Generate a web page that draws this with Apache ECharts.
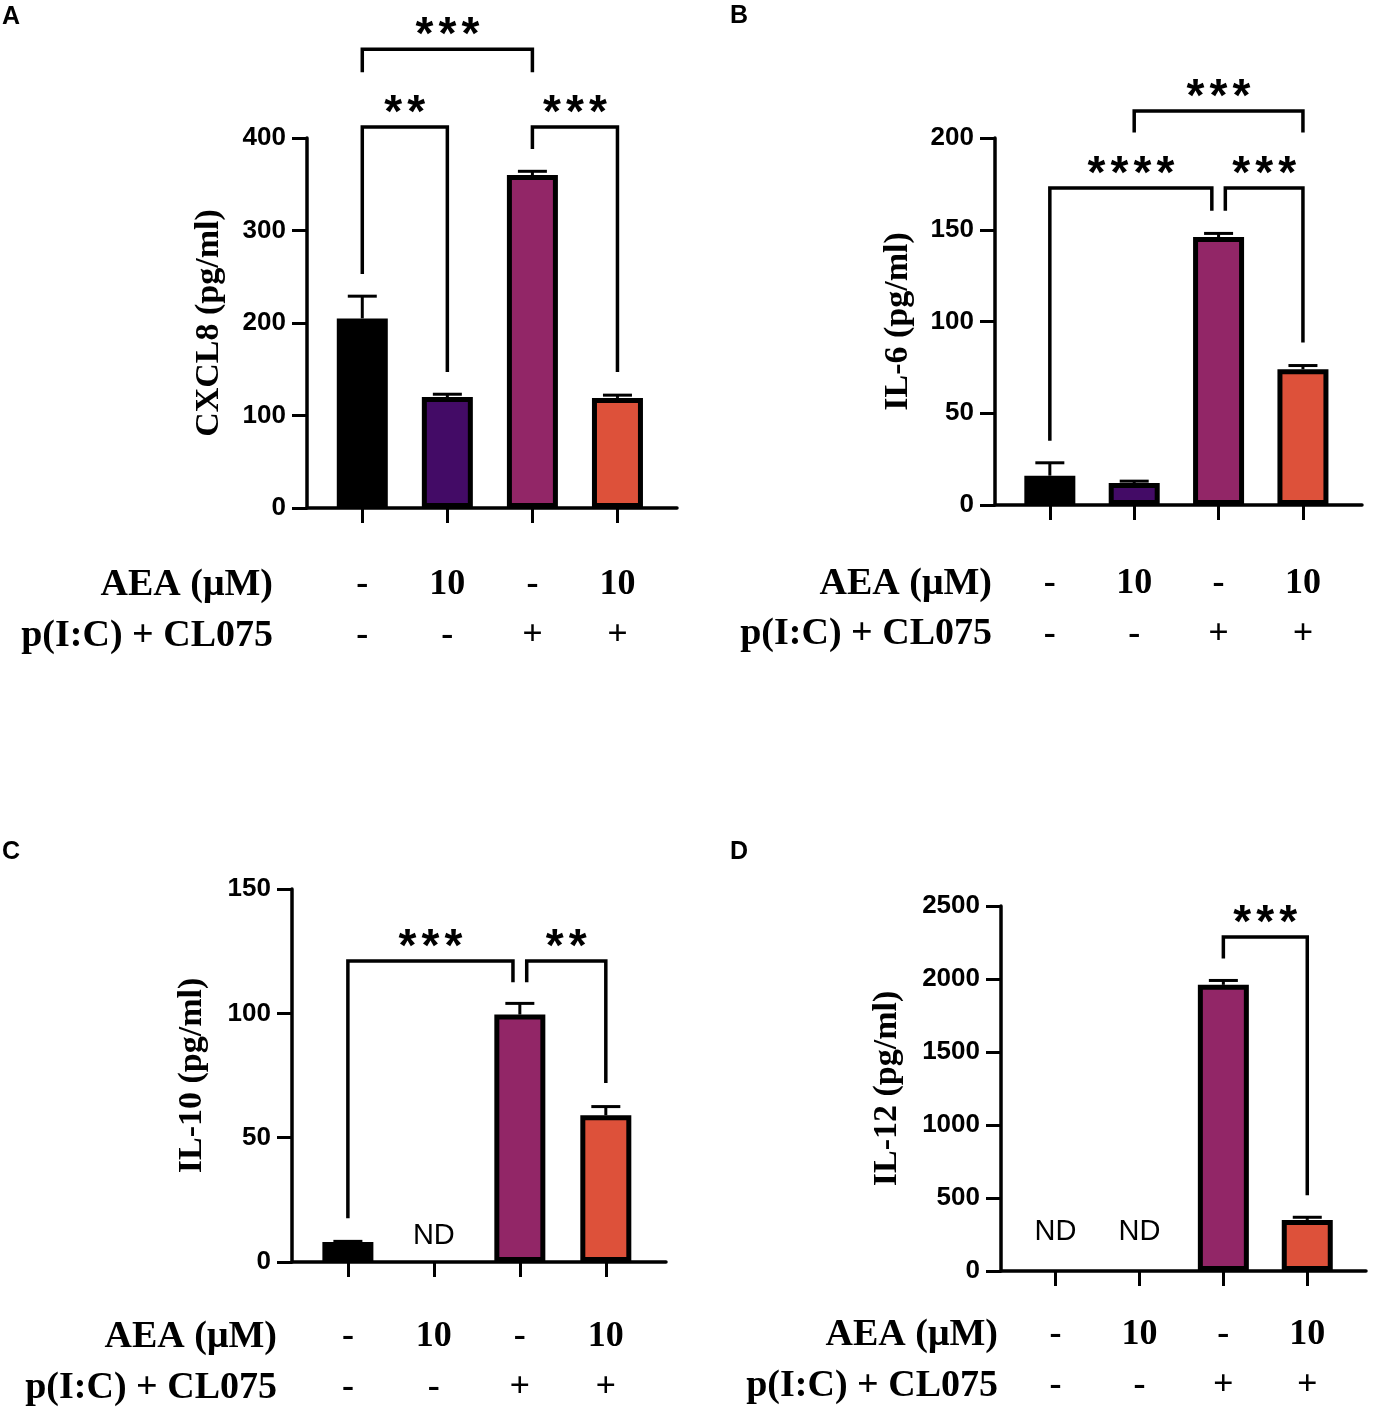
<!DOCTYPE html>
<html>
<head>
<meta charset="utf-8">
<script src="https://cdn.jsdelivr.net/npm/echarts@6/dist/echarts.min.js"></script>
<style>
  html, body { margin: 0; padding: 0; background: #fff; }
  #chart { width: 1374px; height: 1415px; }
</style>
</head>
<body>
<div id="chart"></div>
<script>
// treatment rows under each panel
const aeaLabels = ['-', '10', '-', '10'];
const picLabels = ['-', '-', '+', '+'];
const barColors = ['#000000', '#430b66', '#922667', '#dd513a'];

// A - CXCL8
const cxcl8Mean = [205, 120, 360, 119];
const cxcl8Upper = [229, 123, 364, 122];
// [from, to, bracket level, left leg end, right leg end]
const cxcl8Brackets = [[0, 2, 496, 471, 471], [0, 1, 412, 253, 147], [2, 3, 412, 388, 147]];
const cxcl8Stars = ['***', '**', '***'];

// B - IL-6
const il6Mean = [16, 12, 146, 74];
const il6Upper = [23, 13, 148, 76];
const il6Brackets = [[1, 3, 214.7, 203, 203], [0, 1.92, 172.7, 35, 160.4], [2.08, 3, 172.7, 160.4, 88.5]];
const il6Stars = ['***', '****', '***'];

// C - IL-10
const il10Mean = [8, null, 99.5, 59];
const il10Upper = [8.3, null, 104, 62.5];
const il10Brackets = [[0, 1.92, 121, 17.6, 112.5], [2.08, 3, 121, 112.5, 72]];
const il10Stars = ['***', '**'];
const il10ND = [[1, 10.5]];

// D - IL-12
const il12Mean = [null, null, 1960, 350];
const il12Upper = [null, null, 1990, 368];
const il12Brackets = [[2, 3, 2287, 2141, 519]];
const il12Stars = ['***'];
const il12ND = [[0, 267], [1, 267]];

const SANS = '"Liberation Sans", Arial, sans-serif';
const SERIF = '"Liberation Serif", "Times New Roman", serif';

const panels = [
  { letter: 'A', name: 'CXCL8 (pg/ml)', mean: cxcl8Mean, upper: cxcl8Upper, brackets: cxcl8Brackets, stars: cxcl8Stars, nd: [],
    grid: { left: 307, top: 138, width: 370, height: 370 }, max: 400, interval: 100, nameGap: 81, xMargin: 51.5,
    head: [273, 585, 636], letterPos: [2, 17] },
  { letter: 'B', name: 'IL-6 (pg/ml)', mean: il6Mean, upper: il6Upper, brackets: il6Brackets, stars: il6Stars, nd: [],
    grid: { left: 995, top: 138, width: 367, height: 367 }, max: 200, interval: 50, nameGap: 80, xMargin: 53.5,
    head: [992, 584, 634], letterPos: [730, 16] },
  { letter: 'C', name: 'IL-10 (pg/ml)', mean: il10Mean, upper: il10Upper, brackets: il10Brackets, stars: il10Stars, nd: il10ND,
    grid: { left: 292, top: 889, width: 374, height: 373 }, max: 150, interval: 50, nameGap: 83, xMargin: 49.5,
    head: [277, 1337, 1388], letterPos: [2, 852] },
  { letter: 'D', name: 'IL-12 (pg/ml)', mean: il12Mean, upper: il12Upper, brackets: il12Brackets, stars: il12Stars, nd: il12ND,
    grid: { left: 1001, top: 906, width: 365, height: 365 }, max: 2500, interval: 500, nameGap: 97, xMargin: 38.5,
    head: [998, 1335, 1386], letterPos: [730, 852] }
];

const grids = [], xAxes = [], yAxes = [], series = [], graphics = [];

function errorItem(params, api) {
  const a = api.coord([api.value(0), api.value(1)]);
  const b = api.coord([api.value(0), api.value(2)]);
  const st = { stroke: '#000', lineWidth: 3 };
  return {
    type: 'group',
    children: [
      { type: 'line', shape: { x1: a[0], y1: a[1], x2: b[0], y2: b[1] }, style: st },
      { type: 'line', shape: { x1: b[0] - 14.5, y1: b[1], x2: b[0] + 14.5, y2: b[1] }, style: st }
    ]
  };
}

function bracketRenderer(stars) {
  return function (params, api) {
    const x1 = api.value(0), x2 = api.value(1), lv = api.value(2);
    const p1 = api.coord([x1, api.value(3)]);
    const p2 = api.coord([x1, lv]);
    const p3 = api.coord([x2, lv]);
    const p4 = api.coord([x2, api.value(4)]);
    const s = stars[params.dataIndex];
    const cx = (p2[0] + p3[0]) / 2;
    const children = [{
      type: 'polyline',
      shape: { points: [p1, p2, p3, p4] },
      style: { stroke: '#000', lineWidth: 3.5, fill: null }
    }];
    for (let k = 0; k < s.length; k++) {
      children.push({
        type: 'text',
        style: {
          text: '*', x: cx + (k - (s.length - 1) / 2) * 23, y: p2[1] - 13,
          align: 'center', verticalAlign: 'middle',
          font: 'bold 46px ' + SANS, fill: '#000'
        }
      });
    }
    return { type: 'group', children: children };
  };
}

function ndItem(params, api) {
  const p = api.coord([api.value(0), api.value(1)]);
  return {
    type: 'text',
    style: { text: 'ND', x: p[0], y: p[1], align: 'center', verticalAlign: 'middle',
      font: '29px ' + SANS, fill: '#000' }
  };
}

panels.forEach(function (pn, i) {
  grids.push(Object.assign({ outerBoundsMode: 'none', containLabel: false }, pn.grid));
  xAxes.push({
    gridIndex: i, type: 'value', min: -0.65, max: 3.7,
    splitLine: { show: false },
    axisLine: { show: true, onZero: false, lineStyle: { color: '#000', width: 3.5 } },
    axisTick: { show: true, customValues: [0, 1, 2, 3], length: 15, lineStyle: { color: '#000', width: 3 } },
    axisLabel: {
      customValues: [0, 1, 2, 3], margin: pn.xMargin,
      formatter: function (v) { return aeaLabels[v] + '\n' + picLabels[v]; },
      fontFamily: SERIF, fontWeight: 'bold', fontSize: 36, lineHeight: 51, color: '#000'
    }
  });
  yAxes.push({
    gridIndex: i, type: 'value', min: 0, max: pn.max, interval: pn.interval,
    name: pn.name, nameLocation: 'middle', nameGap: pn.nameGap,
    nameTextStyle: { fontFamily: SERIF, fontWeight: 'bold', fontSize: 34, color: '#000' },
    splitLine: { show: false },
    axisLine: { show: true, onZero: false, lineStyle: { color: '#000', width: 3.5 } },
    axisTick: { show: true, length: 15, lineStyle: { color: '#000', width: 3 } },
    axisLabel: {
      margin: 21, fontFamily: SANS, fontWeight: 'bold', fontSize: 26, color: '#000',
      formatter: function (v) { return String(v); }
    }
  });

  const errData = [], barData = [];
  pn.mean.forEach(function (m, k) {
    if (m == null) return;
    barData.push({ value: [k, m], itemStyle: { color: barColors[k] } });
    errData.push([k, m, pn.upper[k]]);
  });

  series.push({
    type: 'custom', xAxisIndex: i, yAxisIndex: i, clip: false, z: 1,
    renderItem: errorItem, data: errData
  });
  series.push({
    type: 'bar', xAxisIndex: i, yAxisIndex: i, barWidth: 51, z: 2,
    itemStyle: { borderColor: '#000', borderWidth: 5 },
    emphasis: { disabled: true },
    data: barData
  });
  series.push({
    type: 'custom', xAxisIndex: i, yAxisIndex: i, clip: false, z: 3,
    renderItem: bracketRenderer(pn.stars), data: pn.brackets
  });
  if (pn.nd.length) {
    series.push({
      type: 'custom', xAxisIndex: i, yAxisIndex: i, clip: false, z: 3,
      renderItem: ndItem, data: pn.nd
    });
  }

  graphics.push({
    type: 'text', left: pn.letterPos[0], top: pn.letterPos[1] - 12,
    style: { text: pn.letter, font: 'bold 25px ' + SANS, fill: '#000' }
  });
  graphics.push({
    type: 'text', x: pn.head[0], y: pn.head[1],
    style: { text: 'AEA (μM)', align: 'right', verticalAlign: 'middle', font: 'bold 38px ' + SERIF, fill: '#000' }
  });
  graphics.push({
    type: 'text', x: pn.head[0], y: pn.head[2],
    style: { text: 'p(I:C) + CL075', align: 'right', verticalAlign: 'middle', font: 'bold 38px ' + SERIF, fill: '#000' }
  });
});

const chart = echarts.init(document.getElementById('chart'));
chart.setOption({
  backgroundColor: '#fff',
  animation: false,
  grid: grids,
  xAxis: xAxes,
  yAxis: yAxes,
  series: series,
  graphic: graphics
});
</script>
</body>
</html>
